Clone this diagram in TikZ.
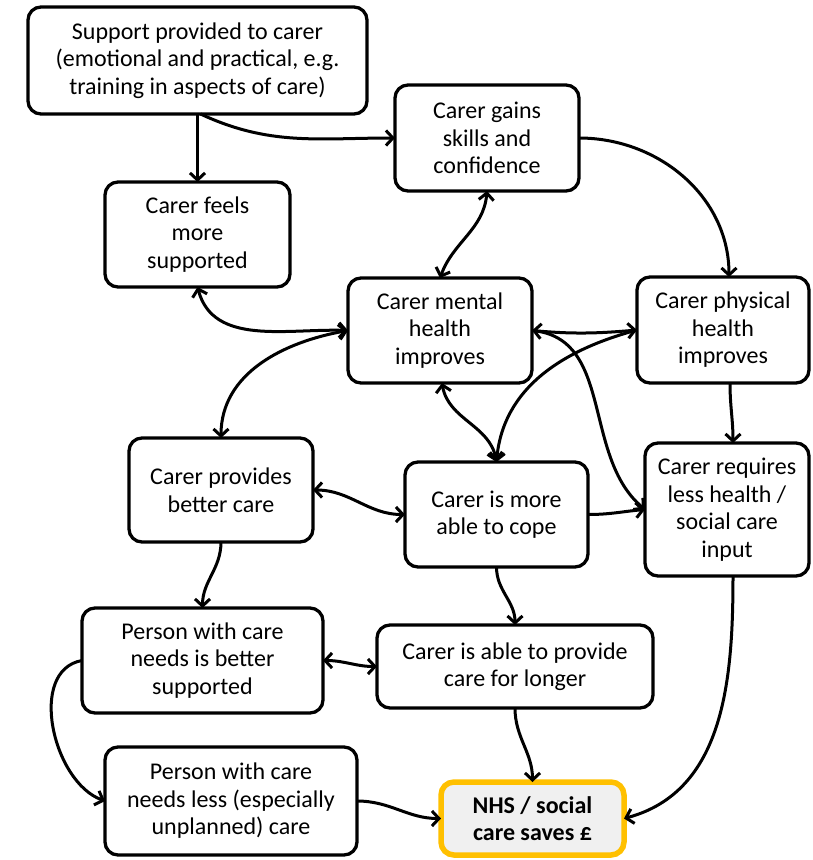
\documentclass[tikz,border=0pt]{standalone}
\usepackage{fontspec}
\setmainfont{Carlito}
\usetikzlibrary{arrows.meta}
\begin{document}
\begin{tikzpicture}[x=1pt,y=1pt,
  >={Straight Barb[length=7pt,width=15pt,line width=3pt]},
  box/.style={draw=black, line width=3.3pt, rounded corners=13pt, align=center,
    inner sep=2pt, outer sep=0pt, font=\fontsize{24}{27.5}\selectfont},
  conn/.style={line width=3pt, black},
  nhsbox/.style={draw={rgb,255:red,255;green,192;blue,0}, fill={rgb,255:red,240;green,240;blue,240},
    line width=5.5pt, rounded corners=13pt, align=center, inner sep=2pt, outer sep=0pt,
    font=\fontsize{24}{27.5}\selectfont\bfseries}]
\useasboundingbox (0,0) rectangle (812,-860);

\node[box, minimum width=339pt, minimum height=107pt] (sup) at (197.5,-60.5)
  {Support provided to carer\\(emotional and practical, e.g.\\training in aspects of care)};
\node[box, minimum width=184pt, minimum height=106pt] (gain) at (487,-138)
  {Carer gains\\skills and\\confidence};
\node[box, minimum width=185pt, minimum height=105pt] (feel) at (197.5,-234.5)
  {Carer feels\\more\\supported};
\node[box, minimum width=184pt, minimum height=105pt] (mental) at (440,-330.5)
  {Carer mental\\health\\improves};
\node[box, minimum width=172pt, minimum height=106pt] (phys) at (723,-330)
  {Carer physical\\health\\improves};
\node[box, minimum width=184pt, minimum height=104pt] (better) at (221,-490)
  {Carer provides\\better care};
\node[box, minimum width=183pt, minimum height=105pt] (cope) at (496.5,-514.5)
  {Carer is more\\able to cope};
\node[box, minimum width=164pt, minimum height=133pt] (req) at (727,-509.5)
  {Carer requires\\less health /\\social care\\input};
\node[box, minimum width=241pt, minimum height=105pt] (pbs) at (202.5,-660.5)
  {Person with care\\needs is better\\supported};
\node[box, minimum width=276pt, minimum height=83pt] (longer) at (515,-666.5)
  {Carer is able to provide\\care for longer};
\node[box, minimum width=252pt, minimum height=108pt] (pless) at (231,-801)
  {Person with care\\needs less (especially\\unplanned) care};
\node[nhsbox, minimum width=183pt, minimum height=73pt] (nhs) at (532.5,-818.5)
  {NHS / social\\care saves £};

% connectors
\draw[conn,->] (sup.south) -- (feel.north);
\draw[conn,->] ([xshift=3pt]sup.south) to[out=-25,in=180] (gain.west);
\draw[conn,<->] (gain.south) to[out=-95,in=70] (mental.north);
\draw[conn,->] (gain.east) to[out=0,in=90] ([xshift=6pt]phys.north);
\draw[conn,<->] (feel.south) to[out=-75,in=178] (mental.west);
\draw[conn,<->] (mental.west) to[out=190,in=90] (better.north);
\draw[conn,<->] (mental.east) to[out=-5,in=185] (phys.west);
\draw[conn,->] (phys.west) to[out=195,in=85] (cope.north);
\draw[conn,<->] ([xshift=2pt]mental.south) to[out=-80,in=100] (cope.north);
\draw[conn,->] (mental.east) to[out=-5,in=140] (req.west);
\draw[conn,->] (cope.east) to[out=0,in=185] (req.west);
\draw[conn,->] ([xshift=7pt]phys.south) to[out=-90,in=90] ([xshift=6pt]req.north);
\draw[conn,<->] (better.east) to[out=0,in=180] (cope.west);
\draw[conn,->] (better.south) to[out=-90,in=90] (pbs.north);
\draw[conn,->] (cope.south) to[out=-90,in=90] (longer.north);
\draw[conn,<->] (pbs.east) to[out=0,in=180] (longer.west);
\draw[conn,->] (pbs.west) to[out=190,in=160] (pless.west);
\draw[conn,->] (pless.east) to[out=0,in=180] (nhs.west);
\draw[conn,->] (longer.south) to[out=-90,in=90] (nhs.north);
\draw[conn,->] ([xshift=6pt]req.south) to[out=-90,in=15] (nhs.east);
\end{tikzpicture}
\end{document}
